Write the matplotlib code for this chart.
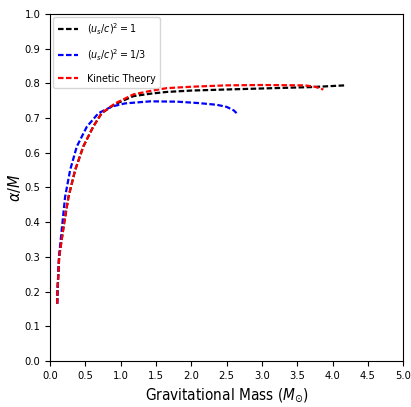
import numpy as np
import matplotlib.pyplot as plt

plt.rcParams['font.family'] = 'DejaVu Sans'
plt.rcParams['font.stretch'] = 'condensed'
plt.rcParams['mathtext.fontset'] = 'custom'
plt.rcParams['mathtext.rm'] = 'DejaVu Sans:stretch=condensed'
plt.rcParams['mathtext.it'] = 'DejaVu Sans:style=oblique:stretch=condensed'

# 数据
m_stiff = [0.10, 0.104, 0.128, 0.20, 0.26, 0.354, 0.47, 0.61, 0.73, 0.92, 1.18, 1.42, 1.65, 2.00, 2.48, 3.00, 3.70, 4.18]
a_stiff = [0.165, 0.20, 0.30, 0.40, 0.473, 0.55, 0.618, 0.675, 0.714, 0.740, 0.763, 0.770, 0.775, 0.779, 0.782, 0.785, 0.789, 0.794]

m_third = [0.10, 0.104, 0.125, 0.175, 0.212, 0.283, 0.378, 0.52, 0.685, 0.874, 1.06, 1.42, 1.80, 2.10, 2.36, 2.50, 2.60, 2.64]
a_third = [0.165, 0.20, 0.30, 0.40, 0.473, 0.55, 0.618, 0.675, 0.714, 0.733, 0.742, 0.748, 0.747, 0.743, 0.738, 0.732, 0.722, 0.714]

m_kin = [0.10, 0.104, 0.128, 0.20, 0.26, 0.354, 0.47, 0.61, 0.73, 0.92, 1.18, 1.42, 1.65, 2.00, 2.50, 3.00, 3.60, 3.75, 3.87]
a_kin = [0.165, 0.20, 0.30, 0.40, 0.473, 0.55, 0.618, 0.675, 0.714, 0.742, 0.768, 0.778, 0.786, 0.790, 0.794, 0.795, 0.794, 0.790, 0.782]

fig = plt.figure(figsize=(4.11, 4.07), dpi=100)
ax = fig.add_axes([0.122, 0.113, 0.859, 0.853])

dash = (2.5, 1.1)
ax.plot(m_stiff, a_stiff, '--', dashes=dash, color='black', lw=1.6, label=r'$(u_s/c)^2=1$')
ax.plot(m_third, a_third, '--', dashes=dash, color='blue', lw=1.6, label=r'$(u_s/c)^2=1/3$')
ax.plot(m_kin, a_kin, '--', dashes=dash, color='red', lw=1.6, label='Kinetic Theory')

ax.set_xlim(0, 5)
ax.set_ylim(0, 1)
ax.set_xticks(np.arange(0, 5.01, 0.5))
ax.set_yticks(np.arange(0, 1.01, 0.1))
ax.tick_params(labelsize=8)
ax.set_xlabel(r'Gravitational Mass ($M_{\odot}$)', fontsize=11)
ax.set_ylabel(r'$\alpha/M$', fontsize=11.5, labelpad=1)
ax.legend(loc='upper left', fontsize=7.7, labelspacing=1.0, borderaxespad=0.3,
          handlelength=1.9)

fig.savefig('out.png', dpi=100)
